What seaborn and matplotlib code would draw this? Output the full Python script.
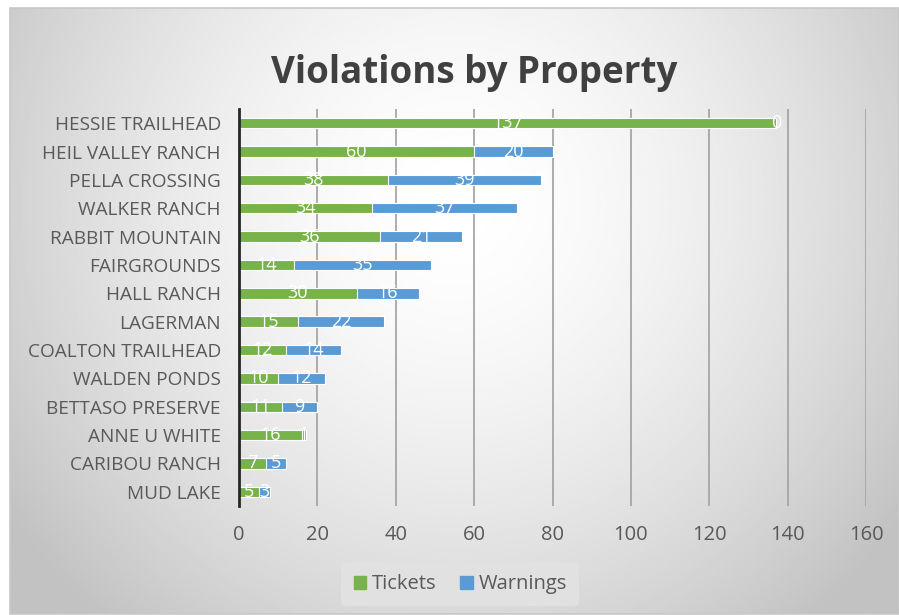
import numpy as np
import pandas as pd
import matplotlib
matplotlib.use("Agg")
import matplotlib.pyplot as plt
import seaborn as sns
from matplotlib.patches import Patch

# ---- data ----
properties = [
    "HESSIE TRAILHEAD", "HEIL VALLEY RANCH", "PELLA CROSSING", "WALKER RANCH",
    "RABBIT MOUNTAIN", "FAIRGROUNDS", "HALL RANCH", "LAGERMAN",
    "COALTON TRAILHEAD", "WALDEN PONDS", "BETTASO PRESERVE", "ANNE U WHITE",
    "CARIBOU RANCH", "MUD LAKE",
]
tickets = [137, 60, 38, 34, 36, 14, 30, 15, 12, 10, 11, 16, 7, 5]
warnings = [0, 20, 39, 37, 21, 35, 16, 22, 14, 12, 9, 1, 5, 3]
x_ticks = [0, 20, 40, 60, 80, 100, 120, 140, 160]

df = pd.DataFrame({"property": properties, "Tickets": tickets, "Warnings": warnings})
df["total"] = df["Tickets"] + df["Warnings"]

GREEN = "#78b24a"
BLUE = "#5b9bd5"
TXT = "#595959"

sns.set_style("white")
plt.rcParams["font.family"] = ["Open Sans", "DejaVu Sans"]

fig = plt.figure(figsize=(8.99, 6.15), dpi=100)
fig.patch.set_facecolor("white")

# gradient background panel (slide-style radial fill)
bg = fig.add_axes([10 / 899, 1 / 615, 889 / 899, 606 / 615])
yy, xx = np.mgrid[0:300, 0:450]
r = np.sqrt(((xx - 225) / 260.0) ** 2 + ((yy - 95) / 260.0) ** 2)
shade = np.clip(1.0 - 0.22 * r ** 1.6, 0.76, 1.0)
bg.imshow(shade, cmap="gray", vmin=0, vmax=1, aspect="auto", interpolation="bilinear")
bg.set_axis_off()
bg.add_patch(plt.Rectangle((0, 0), 1, 1, transform=bg.transAxes, fill=False,
                           edgecolor="#c8c8c8", lw=1.2, clip_on=False))

ax = fig.add_axes([239 / 899, 109 / 615, 627 / 899, 397 / 615])
ax.patch.set_alpha(0)

sns.barplot(data=df, y="property", x="total", order=properties, color=BLUE,
            width=0.37, edgecolor="white", linewidth=0.8, saturation=1, ax=ax)
sns.barplot(data=df, y="property", x="Tickets", order=properties, color=GREEN,
            width=0.37, edgecolor="white", linewidth=0.8, saturation=1, ax=ax)

for i, row in df.iterrows():
    ax.text(row["Tickets"] / 2, i, str(row["Tickets"]), color="white",
            ha="center", va="center", fontsize=13)
    ax.text(row["Tickets"] + row["Warnings"] / 2, i, str(row["Warnings"]),
            color="white", ha="center", va="center", fontsize=13)

ax.set_xlim(0, 160)
ax.set_xticks(x_ticks)
ax.xaxis.grid(True, color="#a6a6a6", lw=1.3)
ax.set_axisbelow(True)
for s in ["top", "right", "bottom"]:
    ax.spines[s].set_visible(False)
ax.spines["left"].set_color("#262626")
ax.spines["left"].set_linewidth(2)
ax.set_xlabel("")
ax.set_ylabel("")
ax.tick_params(axis="both", length=0, colors=TXT)
ax.tick_params(axis="x", pad=14, labelsize=14.5)
ax.tick_params(axis="y", pad=13, labelsize=13.7)

fig.text(0.528, 0.882, "Violations by Property", ha="center", va="center",
         fontsize=26.5, fontweight="bold", color="#404040")

handles = [Patch(color=GREEN, label="Tickets"), Patch(color=BLUE, label="Warnings")]
leg = fig.legend(handles=handles, loc="center", bbox_to_anchor=(0.512, 0.05), ncol=2,
                 frameon=True, fontsize=14.5, handlelength=0.6, handleheight=0.6,
                 handletextpad=0.3, columnspacing=1.2, borderpad=0.6)
leg.get_frame().set_facecolor("#e2e2e2")
leg.get_frame().set_edgecolor("none")
leg.get_frame().set_alpha(0.9)
for t in leg.get_texts():
    t.set_color(TXT)

fig.savefig("out.png", dpi=100)
